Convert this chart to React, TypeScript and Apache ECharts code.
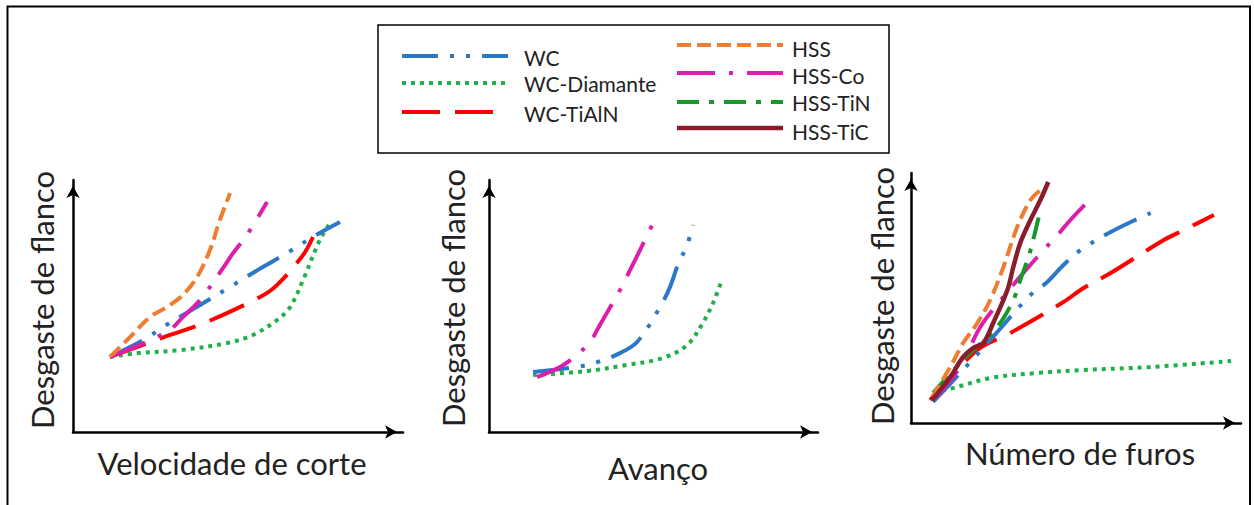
import React, { useEffect, useRef } from 'react';
import * as echarts from 'echarts';

const FONT = 'Lato, "Open Sans", sans-serif';

// ---- Panel 1: Velocidade de corte (x, y in % of axis length) ----
const velHSS = [[11.2, 29.8], [17.3, 37.7], [23.3, 45.6], [28.5, 49.6], [33.3, 54.4], [37.6, 61.5], [41.5, 72.2], [44.5, 84.1], [47.6, 94.8]];
const velHSSCo = [[11.2, 29.8], [28.5, 39.7], [33.3, 45.6], [38.5, 52.4], [45.5, 65.1], [48.5, 71.0], [52.7, 78.2], [58.8, 91.3]];
const velWC = [[11.2, 29.8], [22.4, 37.3], [27.3, 41.7], [38.5, 50.4], [48.5, 58.3], [54.5, 63.1], [59.7, 67.1], [64.8, 71.0], [72.7, 77.4], [80.9, 83.3]];
const velWCTiAlN = [[11.2, 29.8], [29.4, 38.5], [40.6, 43.7], [56.7, 53.6], [61.8, 58.3], [69.7, 70.2], [72.7, 77.4]];
const velWCDiam = [[11.2, 29.8], [19.4, 31.3], [32.4, 32.5], [46.7, 35.3], [54.5, 38.5], [61.8, 44.4], [65.8, 49.6], [69.7, 60.3], [74.8, 76.2], [77.9, 82.9]];

// ---- Panel 2: Avanço ----
const avHSSCo = [[14.6, 21.8], [21.6, 25.8], [26.7, 30.6], [30.7, 35.7], [33.7, 42.5], [39.8, 56.3], [42.9, 64.3], [45.9, 72.2], [51.1, 86.1]];
const avWC = [[13.4, 23.8], [26.7, 25.8], [33.1, 27.8], [39.8, 31.3], [45.0, 35.7], [52.0, 49.6], [55.0, 57.5], [57.4, 66.3], [60.2, 74.2], [62.0, 82.1]];
const avWCDiam = [[13.4, 22.6], [29.8, 24.2], [41.9, 26.6], [52.9, 29.4], [60.2, 34.5], [65.0, 43.3], [68.1, 51.2], [70.8, 60.3]];

// ---- Panel 3: Número de furos ----
const fuHSS = [[6.4, 10.4], [11.9, 22.4], [15.8, 32.0], [20.1, 40.0], [24.0, 49.2], [28.0, 62.4], [32.2, 78.4], [36.2, 89.2], [39.2, 93.2]];
const fuHSSTiN = [[6.7, 12.0], [15.8, 25.2], [26.1, 38.4], [31.0, 49.2], [33.1, 57.2], [35.3, 65.2], [36.8, 72.0], [39.2, 85.2]];
const fuHSSCo = [[6.7, 9.2], [14.9, 22.4], [21.0, 38.4], [28.0, 50.4], [32.2, 57.2], [38.3, 66.4], [44.4, 75.2], [48.3, 81.2], [53.5, 88.4]];
const fuWC = [[6.7, 8.4], [14.9, 20.0], [24.0, 33.2], [36.2, 51.2], [41.3, 56.4], [46.2, 63.2], [51.4, 69.2], [60.5, 76.4], [66.6, 80.4], [72.6, 84.0]];
const fuWCTiAlN = [[5.8, 9.2], [20.1, 29.2], [30.1, 36.0], [46.2, 48.4], [52.3, 54.0], [60.5, 60.0], [76.6, 73.2], [82.7, 77.2], [91.8, 83.2]];
const fuWCDiam = [[6.7, 12.0], [14.0, 14.4], [24.0, 18.0], [38.3, 20.0], [52.3, 21.2], [72.6, 22.4], [97.0, 24.8]];
const fuHSSTiC = [[6.4, 9.2], [11.9, 18.4], [15.8, 26.4], [18.8, 30.0], [21.9, 32.0], [24.9, 40.0], [29.2, 53.2], [31.0, 62.4], [33.1, 72.0], [36.2, 81.2], [39.2, 89.2], [41.6, 96.4]];

const axisTitles = ['Velocidade de corte', 'Avanço', 'Número de furos'];
const yTitle = 'Desgaste de flanco';
const legendLeft = ['WC', 'WC-Diamante', 'WC-TiAlN'];
const legendRight = ['HSS', 'HSS-Co', 'HSS-TiN', 'HSS-TiC'];

const STYLES: Record<string, { color: string; dash: number[] | 'solid'; width: number }> = {
  'WC': { color: '#2A78C6', dash: [36, 12, 4, 12, 4, 12], width: 4 },
  'WC-Diamante': { color: '#1FB04B', dash: [4, 5], width: 4 },
  'WC-TiAlN': { color: '#FF0000', dash: [38, 15], width: 4 },
  'HSS': { color: '#EE7D32', dash: [14, 6], width: 4 },
  'HSS-Co': { color: '#DC1FAA', dash: [38, 14, 4, 14], width: 4 },
  'HSS-TiN': { color: '#14992A', dash: [22, 10, 5, 10], width: 4 },
  'HSS-TiC': { color: '#8B1C2C', dash: 'solid', width: 4.5 },
};

const grids = [
  { left: 73, top: 180, width: 330, height: 252 },
  { left: 489, top: 180, width: 329, height: 252 },
  { left: 911, top: 173, width: 330, height: 250 },
];

const panelSeries: [number, string, number[][]][] = [
  [0, 'WC-Diamante', velWCDiam],
  [0, 'WC-TiAlN', velWCTiAlN],
  [0, 'WC', velWC],
  [0, 'HSS-Co', velHSSCo],
  [0, 'HSS', velHSS],
  [1, 'WC-Diamante', avWCDiam],
  [1, 'WC', avWC],
  [1, 'HSS-Co', avHSSCo],
  [2, 'WC-Diamante', fuWCDiam],
  [2, 'WC-TiAlN', fuWCTiAlN],
  [2, 'WC', fuWC],
  [2, 'HSS-Co', fuHSSCo],
  [2, 'HSS-TiN', fuHSSTiN],
  [2, 'HSS', fuHSS],
  [2, 'HSS-TiC', fuHSSTiC],
];

const axisLine = {
  show: true,
  onZero: false,
  symbol: ['none', 'arrow'],
  symbolSize: [10, 12],
  symbolOffset: [0, -6],
  lineStyle: { color: '#000', width: 2.5 },
};

export default function App() {
  const ref = useRef<HTMLDivElement>(null);
  useEffect(() => {
    document.body.style.margin = '0';
    const chart = echarts.init(ref.current!, null, { renderer: 'svg' });

    const xAxis = grids.map((_, i) => ({
      gridIndex: i, type: 'value', min: 0, max: 100,
      axisLine, axisTick: { show: false }, axisLabel: { show: false }, splitLine: { show: false },
    }));
    const yAxis = grids.map((_, i) => ({
      gridIndex: i, type: 'value', min: 0, max: 100,
      axisLine, axisTick: { show: false }, axisLabel: { show: false }, splitLine: { show: false },
    }));

    const series = panelSeries.map(([g, name, data]) => {
      const s = STYLES[name];
      return {
        type: 'line', name, xAxisIndex: g, yAxisIndex: g, data,
        smooth: 0.35, showSymbol: false, symbol: 'none',
        lineStyle: { color: s.color, width: s.width, type: s.dash, cap: 'butt' },
        z: 3,
      };
    });

    const legendEls: any[] = [];
    const leftYs = [56, 83, 112];
    const rightYs = [45, 73, 102, 128];
    const textYs = [[57, 83, 113], [48, 75, 102, 131]];
    const addItem = (name: string, x1: number, x2: number, ly: number, tx: number, ty: number) => {
      const s = STYLES[name];
      legendEls.push({
        type: 'line', shape: { x1, y1: ly, x2, y2: ly },
        style: { stroke: s.color, lineWidth: s.width, lineDash: s.dash === 'solid' ? null : s.dash, lineCap: 'butt' },
      });
      legendEls.push({
        type: 'text', x: tx, y: ty,
        style: { text: name, font: `21px ${FONT}`, fill: '#222', textAlign: 'left', textVerticalAlign: 'middle' },
      });
    };
    legendLeft.forEach((n, i) => addItem(n, 402, 508, leftYs[i], 524, textYs[0][i]));
    legendRight.forEach((n, i) => addItem(n, 677, 783, rightYs[i], 792, textYs[1][i]));

    const xTitlePos = [[232, 463], [658, 468], [1080, 453]];
    const yTitlePos = [[42, 300], [453, 298], [882, 296]];

    const graphic: any[] = [
      { type: 'rect', shape: { x: 7.5, y: 6.5, width: 1242.5, height: 510 }, style: { fill: 'none', stroke: '#000', lineWidth: 2 }, silent: true },
      { type: 'rect', shape: { x: 378, y: 25, width: 511, height: 128 }, style: { fill: '#fff', stroke: '#000', lineWidth: 1.5 }, silent: true },
      ...legendEls,
      ...axisTitles.map((t, i) => ({
        type: 'text', x: xTitlePos[i][0], y: xTitlePos[i][1],
        style: { text: t, font: `31px ${FONT}`, fill: '#222', textAlign: 'center', textVerticalAlign: 'middle' },
      })),
      ...yTitlePos.map((p) => ({
        type: 'text', x: p[0], y: p[1], rotation: Math.PI / 2,
        style: { text: yTitle, font: `31px ${FONT}`, fill: '#222', textAlign: 'center', textVerticalAlign: 'middle' },
      })),
    ];

    chart.setOption({
      animation: false,
      backgroundColor: '#fff',
      grid: grids.map((g) => ({ ...g, containLabel: false })),
      xAxis, yAxis, series, graphic,
    });
    return () => chart.dispose();
  }, []);
  return <div ref={ref} style={{ width: 1254, height: 505 }} />;
}
